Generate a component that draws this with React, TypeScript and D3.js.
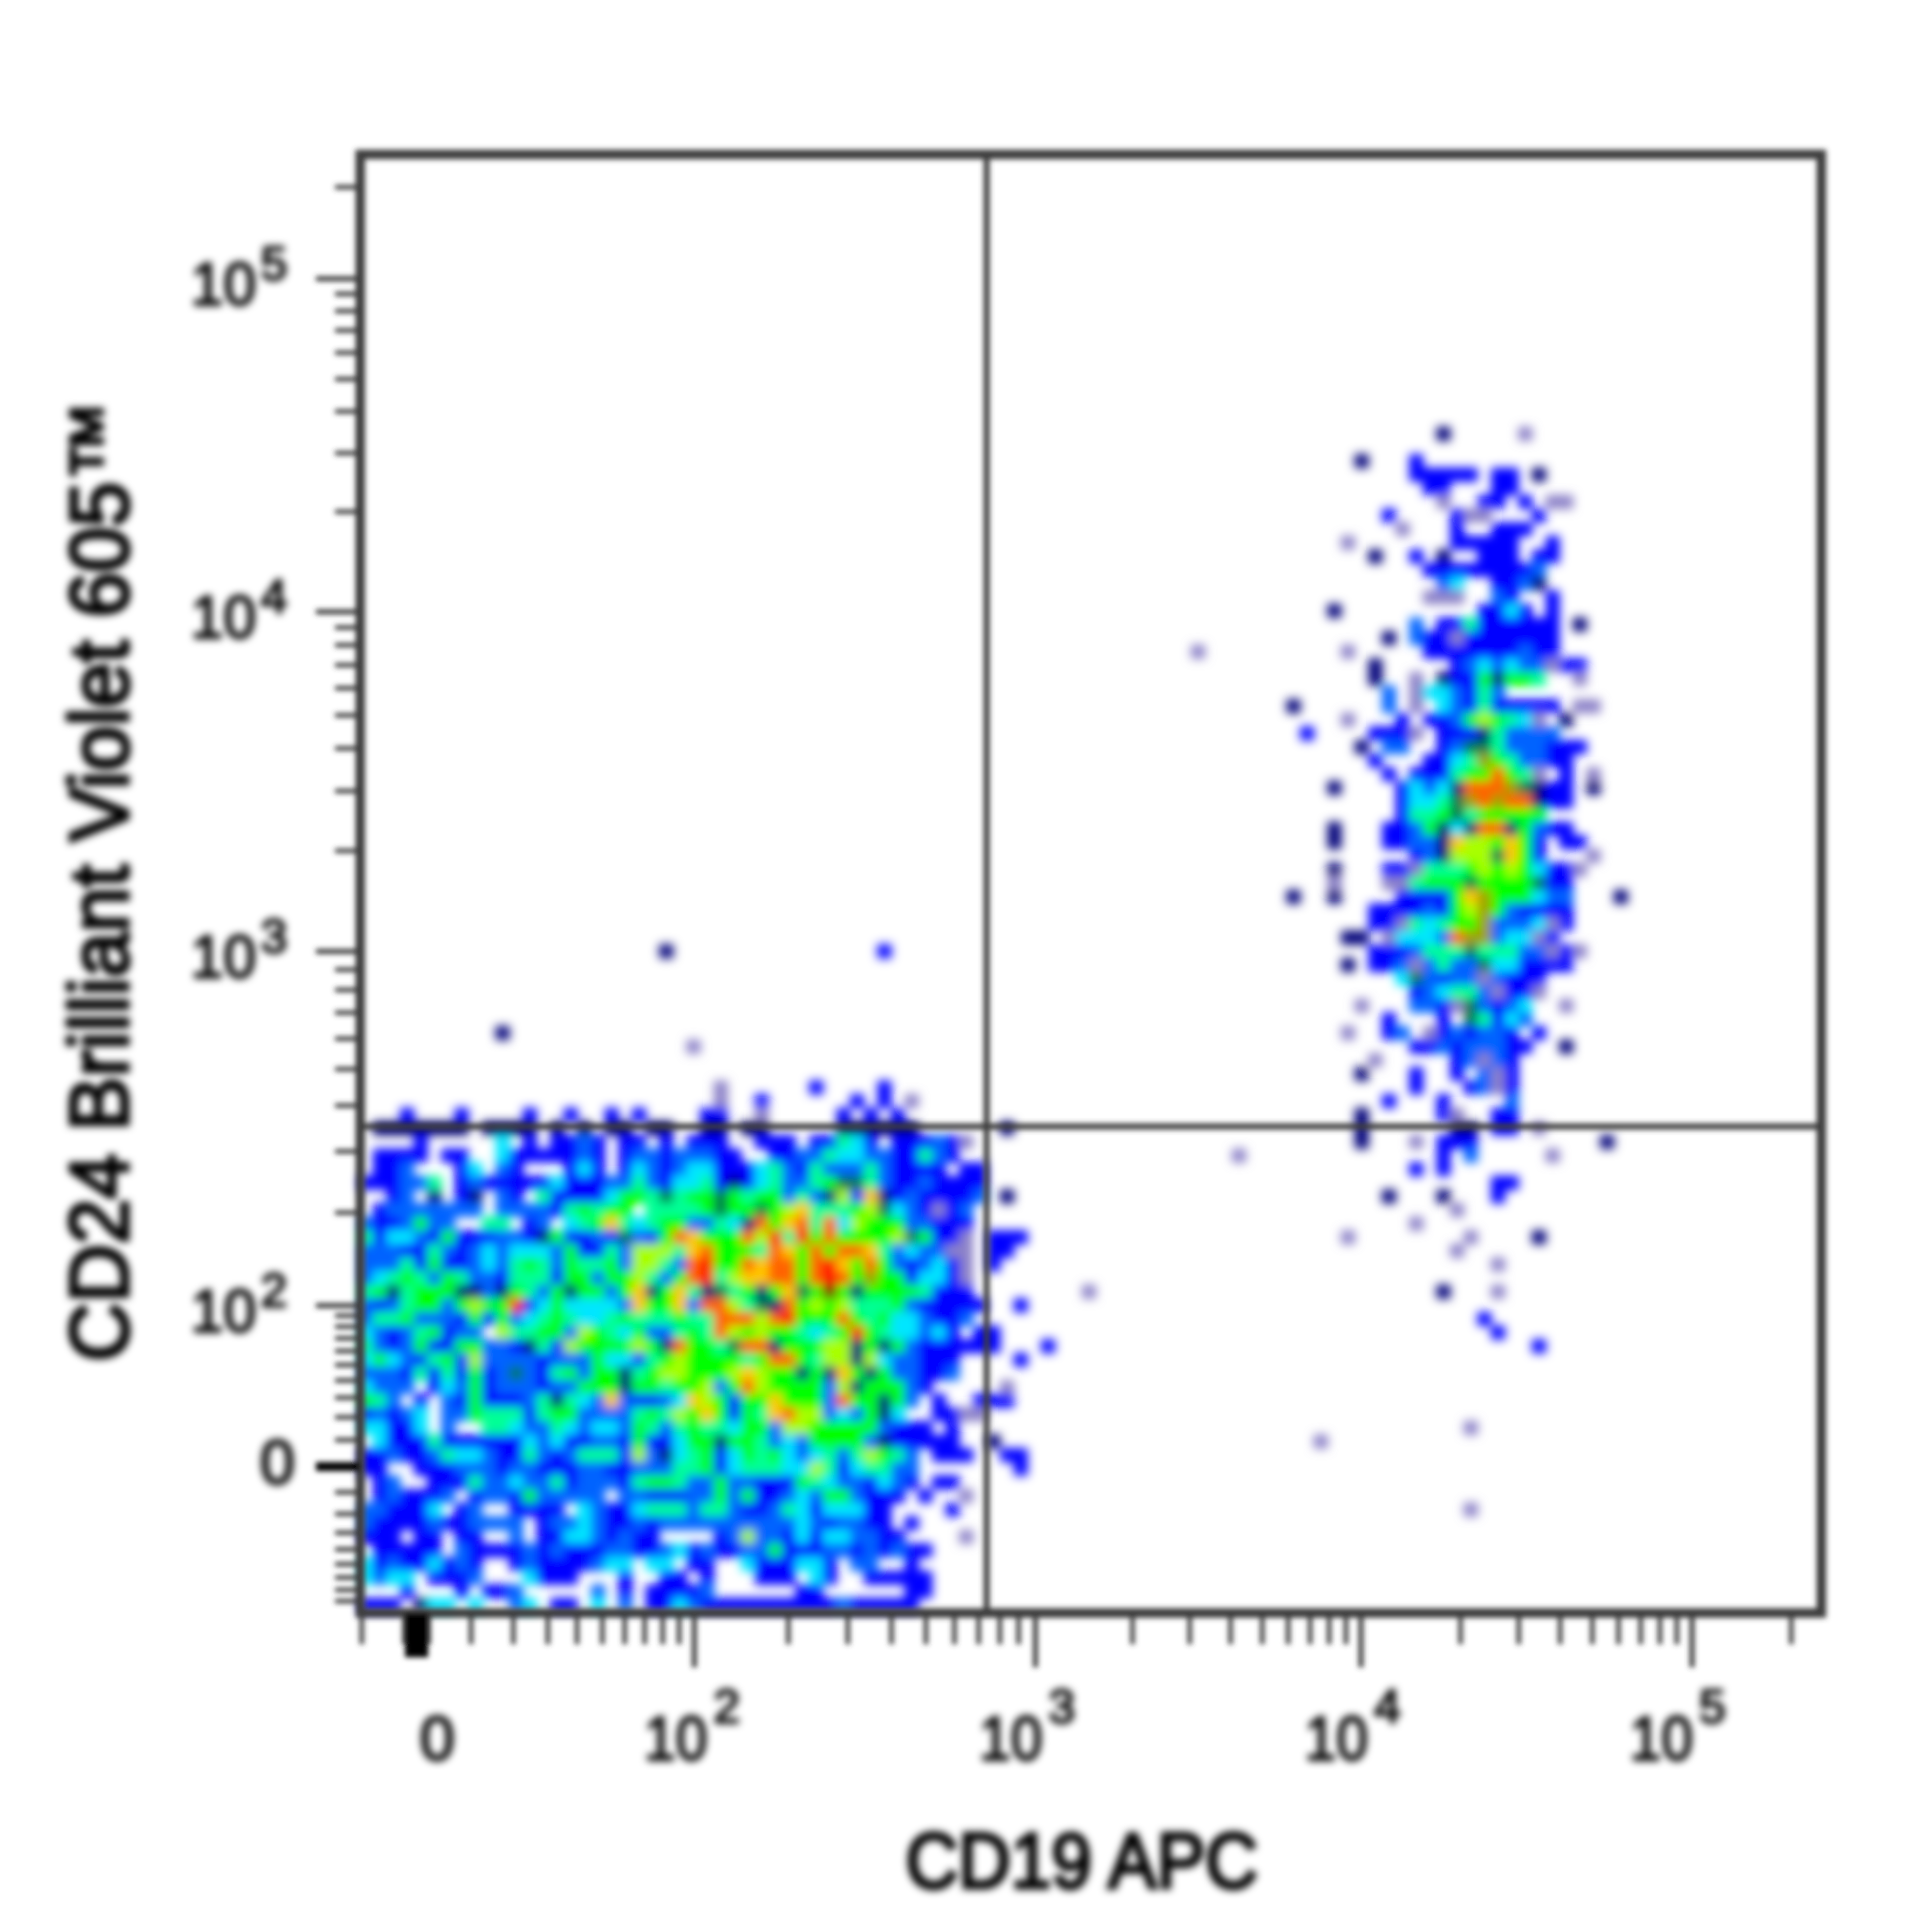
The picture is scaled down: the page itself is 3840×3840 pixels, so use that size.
import React from "react";
import * as d3 from "d3";

// density bins: each character is a colour level, "." = no events
const upperPopulationRows = [
  "...........9.....g.......",
  ".........................",
  ".....9...1...............",
  ".........11111.11.9......",
  "..........11...11........",
  "...........g..11.1.gg....",
  ".......1....1gg...1......",
  "........g...1..111.......",
  "....g.......11111..1.....",
  "......9..1.9..111.11.....",
  "..........111111112......",
  "...........23..1129......",
  "..........ggg..21..1.....",
  "...9..........1131.1.....",
  ".........2.114111111.9...",
  ".......9.211g1111111.....",
  "....g.....1111111211.....",
  "......9.....1232322g11...",
  "......9..g.91159554..g...",
  ".......2.g332142.........",
  "9......2.g.321411111.gg..",
  "....g...1.11256543g.9....",
  ".1....111g.111942222.....",
  ".....9.22..12tt4222111...",
  "......1...1134o542211....",
  ".......1.111455854g.1.g..",
  "...9....13239888ot911.9..",
  "........1334to8o88911....",
  "........1445t455555......",
  "...9...11259398895211....",
  "...9...112297665751.11...",
  ".........129666t751...g..",
  "...9...11g44456565311g...",
  "...g...gg4555t5555t11....",
  "9..9....111157o555322...9",
  "......11112156o521111....",
  "......11g43455o2223g1....",
  "....99.g33328oo233g1.....",
  "......1112444t44422g1g...",
  "....9.112g2422t331111....",
  "........3t2122g2111......",
  ".........123442g11g......",
  ".....g...221gt2123..g....",
  ".......1...1.t4132.......",
  "....g..12.g121221.1......",
  ".........112122211..9....",
  "......g.....12g21........",
  ".....9...1..1.2g1........",
  ".........1...12g1........",
  ".......1...1....2........",
  ".....9.....1g..11........",
  ".....9......99.11.g......",
  ".....9...g.111.........9.",
];
const upperPopulationFirstBin = 68;
const upperPopulationFirstRow = 20;

const lowerLeftRows = [
  "...1...1....1..1..1.1....",
  ".9999999.9999.9.9.99.99..",
  "....1.....3.1.1121.11.1.1",
  ".1111.11..31111121.122122",
  ".112...13.21...131.132123",
  "111224.121111131112242133",
  "..12.9.19.21.411113554t45",
  ".12222222.2222145455.4444",
  "2112522..44.12.3457434552",
  "4133215111221951121t21587",
  "2221142123233325114266647",
  "2224151123245425445266428",
  "2345425422144415525564258",
  "4594555992954259552579574",
  "21245525655r1353333275572",
  "2445222151523454334544454",
  "321245122.644552654352245",
  "4212511552219416555565985",
  "3532145162222122253314565",
  "22214141512t2145255945665",
  "3222.13251222122555955455",
  "542.1.2151112494327211237",
  "12123.2254441455222245465",
  "33113.2..4432243233254245",
  ".311141111113231122151135",
  "1121124332114212444162934",
  "11..111222122111221122244",
  ".12..11142232241222145542",
  ".121112.1221522222.221112",
  "221113.12..1111.321134442",
  "211112112222.122321121222",
  "111.11.11..2.113321211...",
  ".11111.211112121112211231",
  "312113121..121111233.33.1",
  "3233.1112...3111...1..11.",
  "...1...1.112.....2.1.1111",
  "111.933.3..23.11.3.2.1132",
];
const lowerLeftFirstRow = 70;

const lowerCentreRows = [
  ".g......1....1",
  ".g..1......1.1.g",
  "11..g.....1.1.1",
  "99.99.....999999",
  "11..111.11431.11121g",
  "211..11224332211421",
  "311134214222421111.11",
  "4191342245tt421121111",
  "5t5455242961791211112",
  "5t55t56744456t321g12",
  "24398578483655522111",
  "55586r4r5855556t511g.111",
  "855548758588742322gg.11",
  "r55878858r758521231g.1",
  "r46778858r85o551331g",
  "9t45957t5d5955554111",
  "8864t9856564445211111..1",
  "488868r5558545332112",
  "48656554345r5433231.11",
  "54t8895556695952111111",
  "5554588546696322111....1",
  "5567655959759522112",
  "62586555526955521.....g",
  "6515575552855952.1..111",
  "751547866232593..11gg",
  "44355266555552111.1",
  "5955423255552911111..9",
  "5135453234246542.111...1",
  "5134443364134422.......1",
  "2522111543221321.11",
  "252511232552111.1..g",
  "44211243133311....1",
  "22222223212211.1",
  ".12622131332211....g",
  "21122511122121211",
  "1..3111331.22..1",
  "1...111.31..11111",
  "2......11......11",
  "1111111111211111",
];
const lowerCentreFirstBin = 25;
const lowerCentreFirstRow = 68;

// isolated events as [bin, row, level]
const rareEvents: [number, number, string][] = [
  [10, 64, "9"], [22, 58, "9"], [38, 58, "1"], [24, 65, "g"],
  [53, 83, "g"], [50, 87, "1"], [47, 95, "1"], [47, 76, "9"], [47, 71, "9"],
  [61, 36, "g"], [64, 73, "g"],
  [79, 73, "1"], [81, 73, "2"], [87, 73, "g"], [77, 74, "1"], [79, 74, "1"],
  [83, 75, "1"], [84, 75, "1"], [75, 76, "9"], [79, 76, "9"], [83, 76, "1"],
  [80, 77, "g"], [77, 78, "g"], [72, 79, "g"], [81, 79, "g"], [86, 79, "9"],
  [80, 80, "g"], [83, 81, "g"], [79, 83, "9"], [83, 83, "g"], [82, 85, "1"],
  [83, 86, "1"], [86, 87, "1"], [81, 93, "g"], [70, 94, "g"], [81, 99, "g"],
];

const levelColors: Record<string, string> = {
  "1": "#0000ff", "2": "#0064ff", "3": "#00e6ff", "4": "#00ff96", "5": "#00ff00",
  "6": "#a8ff00", "7": "#ffc800", "8": "#ff6400", r: "#ff0000", d: "#800000",
  "9": "#000078", t: "#007850", o: "#a0a000", g: "#8c82c8",
};

const majorTicks = [0, 100, 1000, 10000, 100000];
const decadeMinors = [
  200, 300, 400, 500, 600, 700, 800, 900,
  2000, 3000, 4000, 5000, 6000, 7000, 8000, 9000,
  20000, 30000, 40000, 50000, 60000, 70000, 80000, 90000, 200000,
];
const xLowMinors = [-10, -2, 2, 10, 20, 30, 40, 50, 60, 70, 80, 90];
const yLowMinors = [-80, -70, -60, -50, -40, -30, -20, -10, 10, 20, 30, 40, 50, 60, 70, 80, 90];
const xMaxMinor = 200000;
const exponents: Record<number, string> = { 100: "2", 1000: "3", 10000: "4", 100000: "5" };
const xTitle = "CD19 APC";
const yTitle = "CD24 Brilliant Violet 605™";

const binCount = 107;
const frame = { left: 716, right: 3620, top: 307, bottom: 3206 };
const xLabelShift: Record<number, number> = { 100: -100, 1000: -112, 10000: -112, 100000: -124 };

const bins = d3.range(binCount);
const binX = d3.scaleBand<number>().domain(bins).range([714, 3614]);
const binY = d3.scaleBand<number>().domain(bins).range([307, 3203]);

function biex(constant: number, values: number[], pixels: number[]) {
  const sym = d3.scaleSymlog().constant(constant).domain([-1e6, 1e6]).range([-1, 1]);
  const lin = d3.scaleLinear().domain(values.map((v) => sym(v))).range(pixels);
  return (v: number) => lin(sym(v));
}
const xScale = biex(30, [-10, 0, 100, 1000, 10000, 100000, 230000], [719, 828, 1380, 2058, 2705, 3363, 3600]);
const yScale = biex(50, [-90, 0, 100, 1000, 10000, 100000, 200000], [3203, 2915, 2595, 1891, 1216, 554, 372]);

type Cell = { c: number; r: number; k: string };
function cellsOf(rows: string[], firstBin: number, firstRow: number): Cell[] {
  const out: Cell[] = [];
  rows.forEach((row, ri) => {
    row.split("").forEach((k, ci) => {
      if (k !== ".") out.push({ c: firstBin + ci, r: firstRow + ri, k });
    });
  });
  return out;
}
const cells: Cell[] = [
  ...cellsOf(lowerLeftRows, 0, lowerLeftFirstRow),
  ...cellsOf(lowerCentreRows, lowerCentreFirstBin, lowerCentreFirstRow),
  ...cellsOf(upperPopulationRows, upperPopulationFirstBin, upperPopulationFirstRow),
  ...rareEvents.map(([c, r, k]) => ({ c, r, k })),
];

const ink = "#000";
const font = "'Liberation Sans', Arial, sans-serif";

export default function App() {
  const bw = binX.bandwidth();
  const bh = binY.bandwidth();
  const xMinorAll = [...xLowMinors, ...decadeMinors.filter((v) => v <= xMaxMinor)];
  const yMinorAll = [...yLowMinors, ...decadeMinors];
  return (
    <svg
      width={3840}
      height={3840}
      viewBox="0 0 3840 3840"
      style={{ position: "absolute", left: 0, top: 0, background: "#fff" }}
    >
      <defs>
        <filter id="cellBlur" x="-5%" y="-5%" width="110%" height="110%">
          <feGaussianBlur stdDeviation="10" />
        </filter>
        <filter id="lineBlur" x="-5%" y="-5%" width="110%" height="110%">
          <feGaussianBlur stdDeviation="5.5" />
        </filter>
        <filter id="textBlur" x="-5%" y="-5%" width="110%" height="110%">
          <feGaussianBlur stdDeviation="8" />
        </filter>
      </defs>
      <rect width={3840} height={3840} fill="#fff" />
      <g filter="url(#cellBlur)">
        {cells.map((d, i) => (
          <rect
            key={i}
            x={binX(d.c)}
            y={binY(d.r)}
            width={bw + 1}
            height={bh + 1}
            fill={levelColors[d.k]}
          />
        ))}
      </g>
      <g filter="url(#lineBlur)" stroke="#3c3c3c" fill="none">
        <rect
          x={frame.left}
          y={frame.top}
          width={frame.right - frame.left}
          height={frame.bottom - frame.top}
          strokeWidth={19}
        />
        <line x1={1961} x2={1961} y1={frame.top} y2={frame.bottom} strokeWidth={12} />
        <line x1={frame.left} x2={frame.right} y1={2239} y2={2239} strokeWidth={12} />
        {xMinorAll.map((v) => (
          <line key={"xm" + v} x1={xScale(v)} x2={xScale(v)} y1={frame.bottom} y2={frame.bottom + 62} strokeWidth={9} />
        ))}
        {majorTicks.map((v) => (
          <line
            key={"xM" + v}
            x1={xScale(v)}
            x2={xScale(v)}
            y1={frame.bottom}
            y2={frame.bottom + (v === 0 ? 88 : 108)}
            strokeWidth={v === 0 ? 46 : 10}
            stroke={v === 0 ? "#000" : "#3c3c3c"}
          />
        ))}
        {yMinorAll.map((v) => (
          <line key={"ym" + v} y1={yScale(v)} y2={yScale(v)} x1={frame.left} x2={frame.left - 50} strokeWidth={9} />
        ))}
        {majorTicks.map((v) => (
          <line
            key={"yM" + v}
            y1={yScale(v)}
            y2={yScale(v)}
            x1={frame.left}
            x2={frame.left - 88}
            strokeWidth={v === 0 ? 18 : 10}
            stroke={v === 0 ? "#000" : "#3c3c3c"}
          />
        ))}
      </g>
      <g filter="url(#textBlur)" fontFamily={font} fill={ink} stroke={ink} strokeWidth={4}>
        {majorTicks.map((v) =>
          v === 0 ? (
            <text key={"xl" + v} x={xScale(0) + 41} y={3498} fontSize={125} textAnchor="middle">0</text>
          ) : (
            <g key={"xl" + v}>
              <text x={xScale(v) + xLabelShift[v]} y={3498} fontSize={125} textLength={126} lengthAdjust="spacingAndGlyphs">10</text>
              <text x={xScale(v) + xLabelShift[v] + 138} y={3424} fontSize={95}>{exponents[v]}</text>
            </g>
          )
        )}
        {majorTicks.map((v) =>
          v === 0 ? (
            <text key={"yl" + v} x={586} y={yScale(0) + 34} fontSize={125} textAnchor="end">0</text>
          ) : (
            <g key={"yl" + v}>
              <text x={379} y={yScale(v) + 52} fontSize={120} textLength={130} lengthAdjust="spacingAndGlyphs">10</text>
              <text x={518} y={yScale(v) + 2} fontSize={95}>{exponents[v]}</text>
            </g>
          )
        )}
        <text x={1800} y={3752} fontSize={155} textLength={700} lengthAdjust="spacingAndGlyphs" strokeWidth={7}>
          {xTitle}
        </text>
        <text
          transform="translate(254,2706) rotate(-90)"
          fontSize={165}
          textLength={1910}
          lengthAdjust="spacingAndGlyphs"
          strokeWidth={7}
        >
          {yTitle}
        </text>
      </g>
    </svg>
  );
}
